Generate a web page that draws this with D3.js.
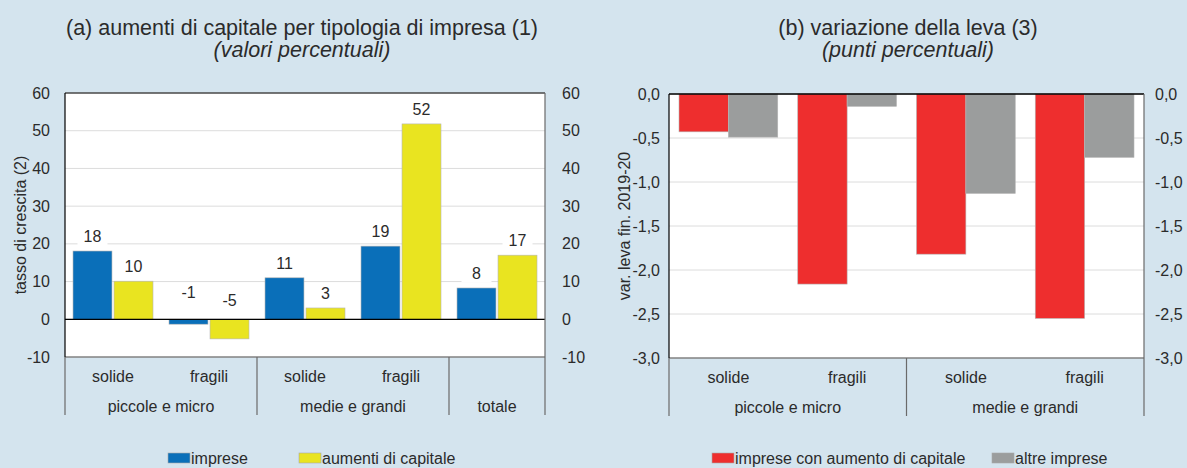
<!DOCTYPE html>
<html>
<head>
<meta charset="utf-8">
<script src="https://cdn.jsdelivr.net/npm/d3@7"></script>
<style>
  body { margin: 0; background: #d4e4ee; }
  svg { display: block; font-family: "Liberation Sans", Arial, sans-serif; }
</style>
</head>
<body>
<div id="vizHolder"></div>
<script>
// ---- data (a)
var subLabelsA = ['solide', 'fragili', 'solide', 'fragili', ''],
    groupsA = [{name: 'piccole e micro', from: 0, to: 1}, {name: 'medie e grandi', from: 2, to: 3}, {name: 'totale', from: 4, to: 4}],
    seriesA = ['imprese', 'aumenti di capitale'],
    impreseA = [18.1, -1.3, 11.0, 19.4, 8.3],
    aumentiA = [10.1, -5.2, 3.0, 51.8, 17.0],
    ticksA = [-10, 0, 10, 20, 30, 40, 50, 60];

// ---- data (b)
var subLabelsB = ['solide', 'fragili', 'solide', 'fragili'],
    groupsB = [{name: 'piccole e micro', from: 0, to: 1}, {name: 'medie e grandi', from: 2, to: 3}],
    seriesB = ['imprese con aumento di capitale', 'altre imprese'],
    conAumentoB = [-0.43, -2.16, -1.82, -2.55],
    altreB = [-0.49, -0.14, -1.13, -0.72],
    ticksB = [-3.0, -2.5, -2.0, -1.5, -1.0, -0.5, 0.0];

var colorsA = ['#0a6fb9', '#e9e420'],
    colorsB = ['#ee2e2e', '#9b9d9d'],
    textCol = '#2b2b2b',
    fs = 16,
    width = 1187, height = 468;

function minus(s) { return s.replace(/\u2212/g, '-'); }

var svg = d3.select('#vizHolder').append('svg')
  .attr('width', width).attr('height', height);

svg.append('rect').attr('width', width).attr('height', height).attr('fill', '#d4e4ee');

function drawChart(o) {
  var g = svg.append('g');
  var y = d3.scaleLinear().domain(o.domain).range([o.bottom, o.top]);
  var x = d3.scaleBand().domain(d3.range(o.cats.length)).range([o.left, o.right]);
  var xs = d3.scaleBand().domain(d3.range(o.series.length))
    .range([o.inPad, x.bandwidth() - o.inPad]).paddingInner(o.gap);

  // titles
  g.append('text').attr('x', o.titleX).attr('y', 35).attr('text-anchor', 'middle')
    .attr('font-size', 21.5).attr('fill', textCol).text(o.title);
  g.append('text').attr('x', o.titleX).attr('y', 57).attr('text-anchor', 'middle')
    .attr('font-size', 21.5).attr('font-style', 'italic').attr('fill', textCol).text(o.subtitle);

  // plot area
  g.append('rect').attr('x', o.left).attr('y', o.top)
    .attr('width', o.right - o.left).attr('height', o.bottom - o.top).attr('fill', '#fff');

  // grid
  g.selectAll('.grid').data(o.ticks).enter().append('line')
    .attr('x1', o.left).attr('x2', o.right)
    .attr('y1', function(d) { return y(d); }).attr('y2', function(d) { return y(d); })
    .attr('stroke', '#dcdcdc').attr('stroke-width', 1);

  // axes (labels only)
  var left = g.append('g').attr('transform', 'translate(' + (o.left - o.lPad) + ',0)')
    .call(d3.axisLeft(y).tickValues(o.ticks).tickSize(0).tickFormat(o.fmt));
  var right = g.append('g').attr('transform', 'translate(' + (o.right + o.rPad) + ',0)')
    .call(d3.axisRight(y).tickValues(o.ticks).tickSize(0).tickFormat(o.fmt));
  [left, right].forEach(function(a) {
    a.select('.domain').remove();
    a.selectAll('text').attr('font-size', fs).attr('fill', textCol).attr('x', 0)
      .attr('font-family', '"Liberation Sans", Arial, sans-serif');
  });
  right.selectAll('text').attr('text-anchor', 'start');

  // y title
  g.append('text').attr('transform', 'translate(' + o.yTitleX + ',' + ((o.top + o.bottom) / 2) + ') rotate(-90)')
    .attr('text-anchor', 'middle').attr('font-size', fs).attr('fill', textCol).text(o.yTitle);

  // bars
  o.values.forEach(function(vals, s) {
    g.selectAll('.bar' + s).data(vals).enter().append('rect')
      .attr('x', function(d, i) { return x(i) + xs(s); })
      .attr('width', xs.bandwidth())
      .attr('y', function(d) { return y(Math.max(0, d)); })
      .attr('height', function(d) { return Math.abs(y(d) - y(0)); })
      .attr('fill', o.colors[s])
      .attr('stroke', '#b5b5b5').attr('stroke-width', 0.6);
  });

  // data labels
  if (o.labels) {
    o.values.forEach(function(vals, s) {
      var lab = g.selectAll('.lab' + s).data(vals).enter().append('g')
        .attr('transform', function(d, i) {
          var cx = x(i) + xs(s) + xs.bandwidth() / 2;
          var cy = d >= 0 ? y(d) - 9 : y(0) - 21 + (s === 1 ? 8 : 0);
          return 'translate(' + cx + ',' + cy + ')';
        });
      lab.append('rect').attr('x', -15).attr('y', -15)
        .attr('width', 30).attr('height', 18).attr('fill', '#fff');
      lab.append('text').attr('text-anchor', 'middle').attr('font-size', fs)
        .attr('fill', textCol).text(function(d) { return minus(d3.format('.0f')(d)); });
    });
  }

  // zero and frame lines
  g.append('line').attr('x1', o.left).attr('x2', o.right).attr('y1', y(0)).attr('y2', y(0))
    .attr('stroke', '#000').attr('stroke-width', 1.2);
  g.append('line').attr('x1', o.left).attr('x2', o.right).attr('y1', o.top).attr('y2', o.top)
    .attr('stroke', '#000').attr('stroke-width', 1.2);
  g.append('line').attr('x1', o.left).attr('x2', o.right).attr('y1', o.bottom).attr('y2', o.bottom)
    .attr('stroke', '#555').attr('stroke-width', 1);
  g.append('line').attr('x1', o.left).attr('x2', o.left).attr('y1', o.top).attr('y2', o.bottom)
    .attr('stroke', '#000').attr('stroke-width', 1.2);

  // category axis
  g.selectAll('.sub').data(o.cats).enter().append('text')
    .attr('x', function(d, i) { return x(i) + x.bandwidth() / 2; })
    .attr('y', o.bottom + 25).attr('text-anchor', 'middle')
    .attr('font-size', fs).attr('fill', textCol).text(function(d) { return d; });
  g.selectAll('.grp').data(o.groups).enter().append('text')
    .attr('x', function(d) { return (x(d.from) + x(d.to) + x.bandwidth()) / 2; })
    .attr('y', o.bottom + 55).attr('text-anchor', 'middle')
    .attr('font-size', fs).attr('fill', textCol).text(function(d) { return d.name; });
  var divs = [o.left].concat(o.groups.map(function(d) { return x(d.to) + x.bandwidth(); }));
  g.selectAll('.div').data(divs).enter().append('line')
    .attr('x1', function(d) { return d; }).attr('x2', function(d) { return d; })
    .attr('y1', function(d) { return d === o.right ? o.top : o.bottom; }).attr('y2', o.bottom + 58)
    .attr('stroke', '#6a6a6a').attr('stroke-width', 1.2);

  // legend
  o.series.forEach(function(name, s) {
    var lg = g.append('g').attr('transform', 'translate(' + o.legendX[s] + ',453)');
    lg.append('rect').attr('width', 22).attr('height', 10).attr('fill', o.colors[s])
      .attr('stroke', '#a8a8a8').attr('stroke-width', 0.6);
    lg.append('text').attr('x', 23).attr('y', 11).attr('font-size', fs)
      .attr('fill', textCol).text(name);
  });
}

drawChart({
  title: '(a) aumenti di capitale per tipologia di impresa (1)',
  subtitle: '(valori percentuali)',
  titleX: 302,
  yTitle: 'tasso di crescita (2)', yTitleX: 26,
  left: 65, right: 545, top: 93, bottom: 357, lPad: 15, rPad: 17,
  domain: [-10, 60], ticks: ticksA, fmt: function(d) { return minus(d3.format('d')(d)); },
  cats: subLabelsA, groups: groupsA, series: seriesA,
  values: [impreseA, aumentiA], colors: colorsA,
  inPad: 8, gap: 0.05, labels: true,
  legendX: [168, 299]
});

drawChart({
  title: '(b) variazione della leva (3)',
  subtitle: '(punti percentuali)',
  titleX: 908,
  yTitle: 'var. leva fin. 2019-20', yTitleX: 630,
  left: 669, right: 1144, top: 94, bottom: 358, lPad: 9, rPad: 11,
  domain: [-3, 0], ticks: ticksB,
  fmt: function(d) { return minus(d3.format('.1f')(d)).replace('.', ','); },
  cats: subLabelsB, groups: groupsB, series: seriesB,
  values: [conAumentoB, altreB], colors: colorsB,
  inPad: 10, gap: 0, labels: false,
  legendX: [712, 992]
});
</script>
</body>
</html>
